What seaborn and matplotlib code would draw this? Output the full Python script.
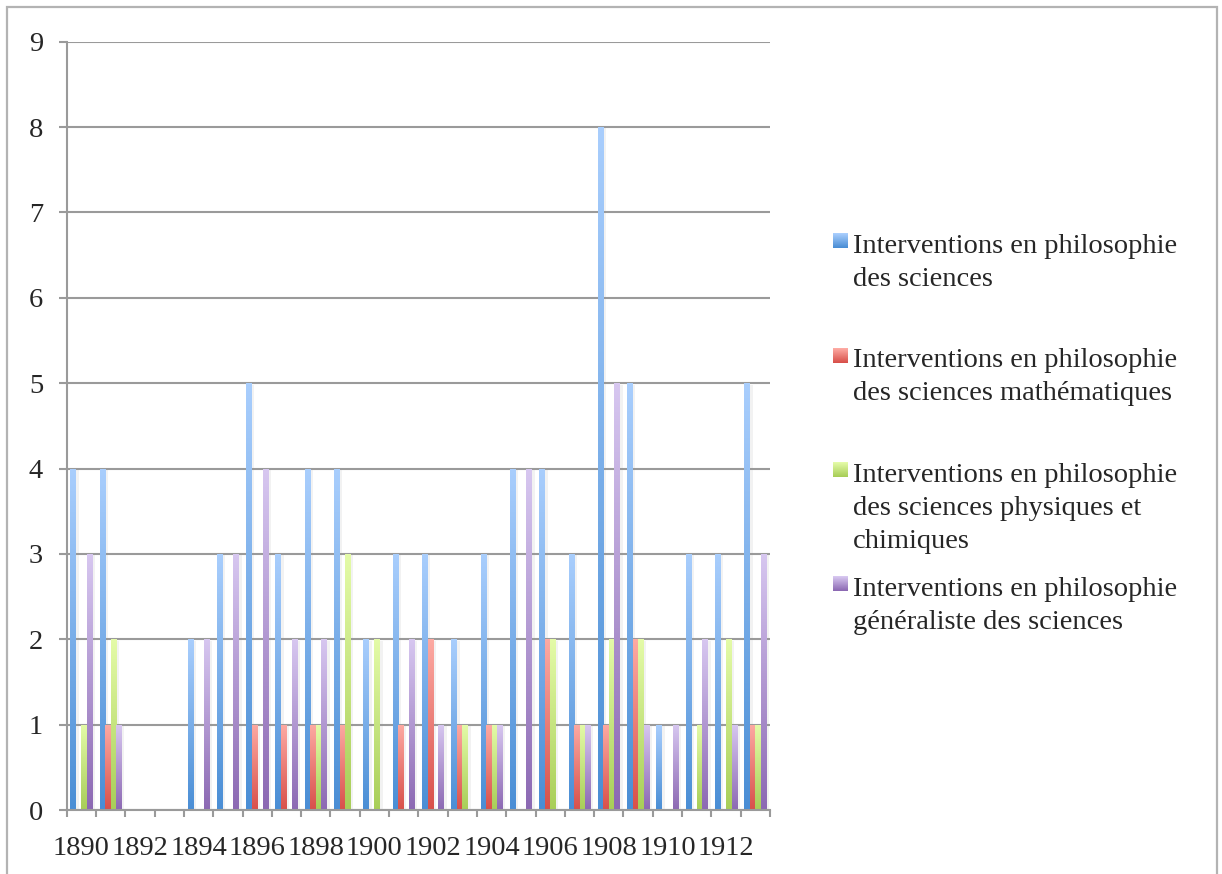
import numpy as np
import pandas as pd
import matplotlib
matplotlib.use('Agg')
import matplotlib.pyplot as plt
import matplotlib.patheffects as pe
from matplotlib.patches import Rectangle
from matplotlib.colors import to_rgb
import seaborn as sns

# données
years = ['1890', '1891', '1892', '1893', '1894', '1895', '1896', '1897',
         '1898', '1899', '1900', '1901', '1902', '1903', '1904', '1905',
         '1906', '1907', '1908', '1909', '1910', '1911', '1912', '1913']
tick_years = years[::2]

series = ['Interventions en philosophie\ndes sciences',
          'Interventions en philosophie\ndes sciences mathématiques',
          'Interventions en philosophie\ndes sciences physiques et\nchimiques',
          'Interventions en philosophie\ngénéraliste des sciences']

philo_sciences = [4, 4, 0, 0, 2, 3, 5, 3, 4, 4, 2, 3, 3, 2, 3, 4, 4, 3, 8, 5, 1, 3, 3, 5]
philo_maths = [0, 1, 0, 0, 0, 0, 1, 1, 1, 1, 0, 1, 2, 1, 1, 0, 2, 1, 1, 2, 0, 0, 0, 1]
philo_physique = [1, 2, 0, 0, 0, 0, 0, 0, 1, 3, 2, 0, 0, 1, 1, 0, 2, 1, 2, 2, 0, 1, 2, 1]
philo_generale = [3, 1, 0, 0, 2, 3, 4, 2, 2, 0, 0, 2, 1, 0, 1, 4, 0, 1, 5, 1, 1, 2, 1, 3]

# couleurs (haut clair -> bas foncé)
col_top = ['#a9cefd', '#fdaaa3', '#e4fba8', '#d7c7f0']
col_bot = ['#4a8ed5', '#d8504a', '#a8ce58', '#8c69b3']
col_mid = ['#78aeea', '#ec7f77', '#c6e580', '#b199d3']

df = pd.DataFrame({
    'annee': years * 4,
    'valeur': philo_sciences + philo_maths + philo_physique + philo_generale,
    'serie': [s for s in series for _ in years],
})

sns.set_style('white')
plt.rcParams['font.family'] = ['Liberation Serif', 'DejaVu Serif']
FS = 20.5
GRID = '#9a9a9a'

fig = plt.figure(figsize=(12.22, 8.74), dpi=100)
ax = fig.add_axes([66.7 / 1222, 1 - 810 / 874, (770 - 66.7) / 1222, (810 - 41.7) / 874])

sns.barplot(data=df, x='annee', y='valeur', hue='serie', order=years,
            hue_order=series, palette=col_mid, width=0.75, gap=0,
            saturation=1, legend=False, ax=ax)

# dégradé vertical + ombre légère pour chaque barre
def gradient(c_top, c_bot, n=128):
    t = np.linspace(0, 1, n)[:, None]
    a, b = np.array(to_rgb(c_top)), np.array(to_rgb(c_bot))
    return (a * (1 - t) + b * t)[:, None, :]

for i, cont in enumerate(ax.containers):
    img = gradient(col_top[i], col_bot[i])
    for bar in cont:
        h = bar.get_height()
        if h <= 0:
            bar.set_visible(False)
            continue
        x0 = bar.get_x()
        w = bar.get_width()
        bar.set_facecolor('none')
        bar.set_edgecolor('none')
        bar.set_path_effects([pe.SimplePatchShadow(offset=(2, -1), shadow_rgbFace='#999999', alpha=0.12)])
        im = ax.imshow(img, extent=[x0, x0 + w, 0, h], aspect='auto',
                       origin='upper', interpolation='bilinear', zorder=2.5)
        im.set_clip_path(bar)

ax.set_xlim(-0.5, len(years) - 0.5)
ax.set_ylim(0, 9)
ax.set_yticks(range(10))
ax.set_xticks(range(0, len(years), 2))
ax.set_xticklabels(tick_years)
ax.set_xticks(np.arange(-0.5, len(years), 1), minor=True)
ax.set_xlabel('')
ax.set_ylabel('')

ax.set_axisbelow(True)
ax.yaxis.grid(True, color=GRID, linewidth=1.5)
ax.xaxis.grid(False)
for s in ['top', 'right']:
    ax.spines[s].set_visible(False)
for s in ['left', 'bottom']:
    ax.spines[s].set_color(GRID)
    ax.spines[s].set_linewidth(1.5)

ax.tick_params(axis='y', which='major', direction='out', length=6, width=1.5,
               color=GRID, pad=11, labelsize=FS, left=True)
ax.tick_params(axis='x', which='major', length=0, pad=19, labelsize=FS)
ax.tick_params(axis='x', which='minor', direction='out', length=5, width=1.5,
               color=GRID, bottom=True)

# légende dessinée à la main (carré aligné sur la première ligne)
W, H = 1222, 874
for i, name in enumerate(series):
    top = 233 + i * 114.3
    fig.figimage(gradient(col_top[i], col_bot[i], 15).repeat(15, axis=1),
                 xo=833, yo=int(H - top - 15), origin='upper', zorder=3)
    fig.text(853 / W, 1 - (top + 1) / H, name, fontsize=FS, va='top', ha='left',
             linespacing=1.42)

# cadre gris autour du graphique
fig.add_artist(Rectangle((7 / W, -0.05), (1217 - 7) / W, (H - 7) / H + 0.05,
                         transform=fig.transFigure, fill=False,
                         edgecolor='#b3b3b3', linewidth=1.6))

fig.savefig('out.png', dpi=100)
